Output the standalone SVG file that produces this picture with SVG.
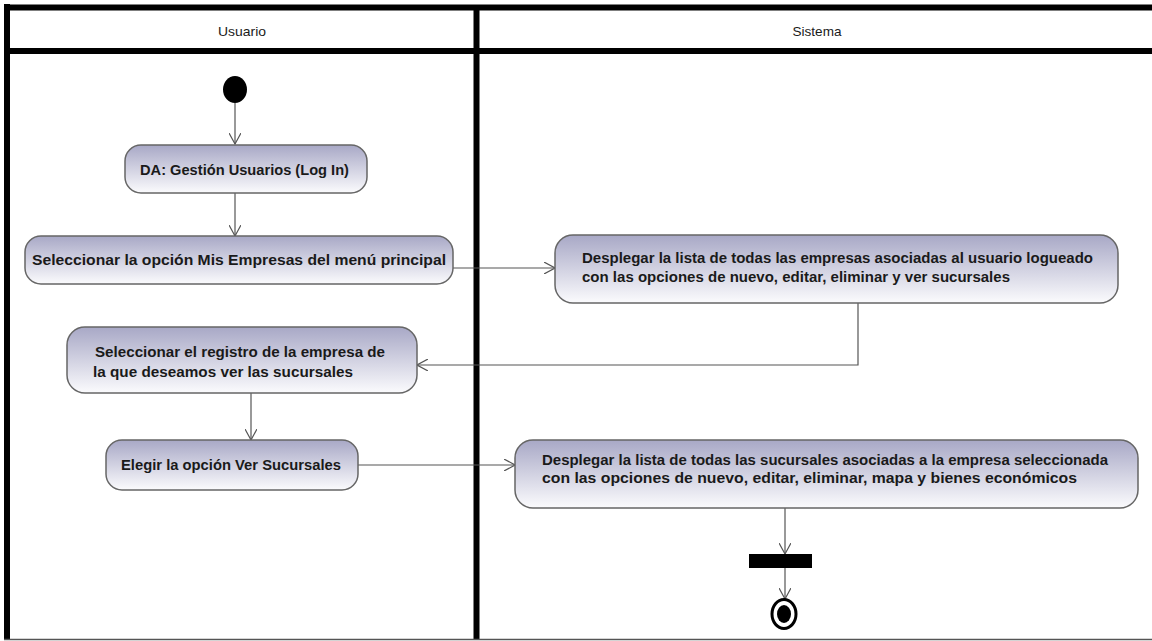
<svg xmlns="http://www.w3.org/2000/svg" width="1152" height="641" viewBox="0 0 1152 641">
<style>
.lane{stroke:#000;stroke-width:6;fill:none}
.hdr{font-family:"Liberation Sans",Arial,sans-serif;font-size:13px;fill:#1a1a1a;text-anchor:middle}
.act{fill:url(#g);stroke:#666;stroke-width:1.5}
.t{font-family:"Liberation Sans",Arial,sans-serif;font-size:15px;font-weight:bold;fill:#1a1a1a}
.c{stroke:#555;stroke-width:1.2;fill:none;marker-end:url(#ah)}
</style>
<defs>
<linearGradient id="g" x1="0" y1="0" x2="0" y2="1">
<stop offset="0" stop-color="#a8a8c6"/>
<stop offset="1" stop-color="#fbfbfd"/>
</linearGradient>
<marker id="ah" viewBox="0 0 12 12" refX="11" refY="6" markerWidth="12" markerHeight="12" markerUnits="userSpaceOnUse" orient="auto">
<path d="M0,0 L11,6 L0,12" fill="none" stroke="#555" stroke-width="1.2"/>
</marker>
</defs>
<rect width="1152" height="641" fill="#fff"/>
<g id="lanes">
<line class="lane" x1="4" y1="7.5" x2="1152" y2="7.5"/>
<line class="lane" x1="4" y1="51" x2="1152" y2="51"/>
<line class="lane" x1="7" y1="4" x2="7" y2="640"/>
<line class="lane" x1="476.5" y1="7" x2="476.5" y2="640"/>
<line x1="4" y1="639.5" x2="1152" y2="639.5" stroke="#555" stroke-width="1.5"/>
<text class="hdr" x="242" y="36" textLength="48" lengthAdjust="spacingAndGlyphs">Usuario</text>
<text class="hdr" x="817" y="36" textLength="49" lengthAdjust="spacingAndGlyphs">Sistema</text>
</g>
<g id="connectors">
<path class="c" d="M235,103 V144"/>
<path class="c" d="M235,193 V236"/>
<path class="c" d="M453,268 H555"/>
<path class="c" d="M858,303 V365 H417"/>
<path class="c" d="M251,393 V440"/>
<path class="c" d="M358,465 H515"/>
<path class="c" d="M785,508 V554"/>
<path class="c" d="M785,568 V599"/>
</g>
<g id="start"><ellipse cx="235" cy="89.5" rx="12" ry="13.5" fill="#000"/></g>
<g id="a1"><rect class="act" x="125" y="145" width="242" height="48" rx="16"/><text class="t" x="140" y="175" textLength="209" lengthAdjust="spacingAndGlyphs">DA: Gestión Usuarios (Log In)</text></g>
<g id="a2"><rect class="act" x="25" y="236" width="428" height="48" rx="16"/><text class="t" x="32" y="265" textLength="414" lengthAdjust="spacingAndGlyphs">Seleccionar la opción Mis Empresas del menú principal</text></g>
<g id="a3"><rect class="act" x="555" y="235" width="563" height="68" rx="18"/><text class="t" x="582" y="263" textLength="511" lengthAdjust="spacingAndGlyphs">Desplegar la lista de todas las empresas asociadas al usuario logueado</text><text class="t" x="582" y="282" textLength="428" lengthAdjust="spacingAndGlyphs">con las opciones de nuevo, editar, eliminar y ver sucursales</text></g>
<g id="a4"><rect class="act" x="67" y="327" width="350" height="66" rx="18"/><text class="t" x="95" y="357" textLength="290" lengthAdjust="spacingAndGlyphs">Seleccionar el registro de la empresa de</text><text class="t" x="93" y="377" textLength="260" lengthAdjust="spacingAndGlyphs">la que deseamos ver las sucursales</text></g>
<g id="a5"><rect class="act" x="106" y="440" width="252" height="50" rx="16"/><text class="t" x="121" y="470" textLength="220" lengthAdjust="spacingAndGlyphs">Elegir la opción Ver Sucursales</text></g>
<g id="a6"><rect class="act" x="515" y="440" width="623" height="68" rx="18"/><text class="t" x="542" y="465" textLength="566" lengthAdjust="spacingAndGlyphs">Desplegar la lista de todas las sucursales asociadas a la empresa seleccionada</text><text class="t" x="542" y="483" textLength="535" lengthAdjust="spacingAndGlyphs">con las opciones de nuevo, editar, eliminar, mapa y bienes económicos</text></g>
<g id="fork"><rect x="749" y="554" width="63" height="14" fill="#000"/></g>
<g id="end"><ellipse cx="784" cy="614" rx="12" ry="14.5" fill="#fff" stroke="#000" stroke-width="3"/><ellipse cx="784" cy="614" rx="7" ry="9" fill="#000"/></g>
</svg>
